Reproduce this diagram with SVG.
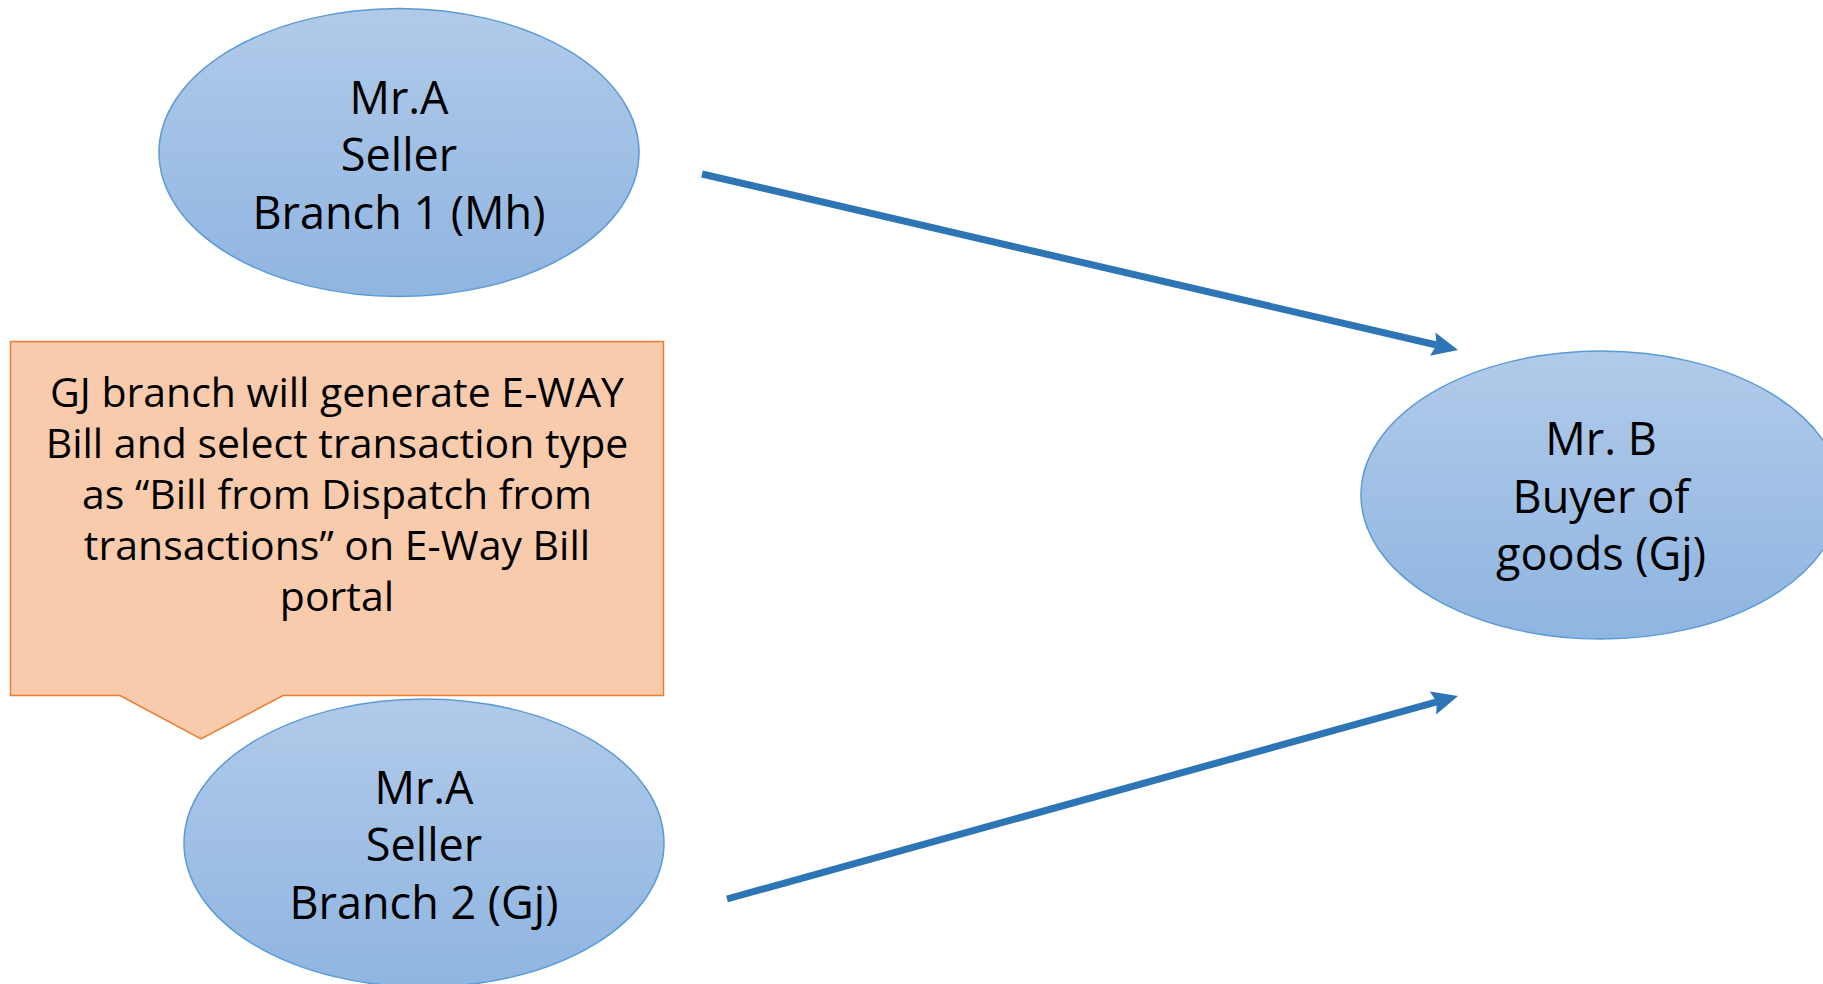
<svg xmlns="http://www.w3.org/2000/svg" width="1823" height="984" viewBox="0 0 1823 984">
<defs>
<linearGradient id="blueGrad" x1="0" y1="0" x2="0" y2="1">
<stop offset="0" stop-color="#b1cae9"/>
<stop offset="1" stop-color="#8fb5e1"/>
</linearGradient>
<marker id="arrow" viewBox="0 0 26 24" refX="4" refY="12" markerWidth="26" markerHeight="24" markerUnits="userSpaceOnUse" orient="auto">
<path d="M0,0 L26,12 L0,24 L4,12 Z" fill="#2e75b6"/>
</marker>
<style>
.node{fill:url(#blueGrad);stroke:#5b9bd5;stroke-width:1.5}
.label{font-family:"Open Sans","Noto Sans","DejaVu Sans",sans-serif;font-size:45px;fill:#000;text-anchor:middle}
.box{font-size:41px}
.callout{fill:#f8cbad;stroke:#ed7d31;stroke-width:1.5}
.conn{stroke:#2e75b6;stroke-width:7;fill:none;marker-end:url(#arrow)}
</style>
</defs>
<rect width="1823" height="984" fill="#ffffff"/>
<g id="seller-branch1">
<ellipse class="node" cx="399" cy="152.5" rx="240" ry="144"/>
<text class="label" x="399" y="114">Mr.A</text>
<text class="label" x="399" y="171">Seller</text>
<text class="label" x="399" y="229">Branch 1 (Mh)</text>
</g>
<g id="callout">
<path class="callout" d="M10.5,341.5 L663.5,341.5 L663.5,695.5 L283,695.5 L201,739 L120,695.5 L10.5,695.5 Z"/>
<text class="label box" x="337" y="407">GJ branch will generate E-WAY</text>
<text class="label box" x="337" y="458">Bill and select transaction type</text>
<text class="label box" x="337" y="509">as “Bill from Dispatch from</text>
<text class="label box" x="337" y="560">transactions” on E-Way Bill</text>
<text class="label box" x="337" y="611">portal</text>
</g>
<g id="seller-branch2">
<ellipse class="node" cx="424" cy="843" rx="240" ry="144"/>
<text class="label" x="424" y="804">Mr.A</text>
<text class="label" x="424" y="861">Seller</text>
<text class="label" x="424" y="919">Branch 2 (Gj)</text>
</g>
<g id="buyer">
<ellipse class="node" cx="1601" cy="495" rx="240" ry="144"/>
<text class="label" x="1601" y="455">Mr. B</text>
<text class="label" x="1601" y="513">Buyer of</text>
<text class="label" x="1601" y="570">goods (Gj)</text>
</g>
<g id="connectors">
<line class="conn" x1="702" y1="174" x2="1436.6" y2="345"/>
<line class="conn" x1="727" y1="899" x2="1436.8" y2="701.9"/>
</g>
</svg>
